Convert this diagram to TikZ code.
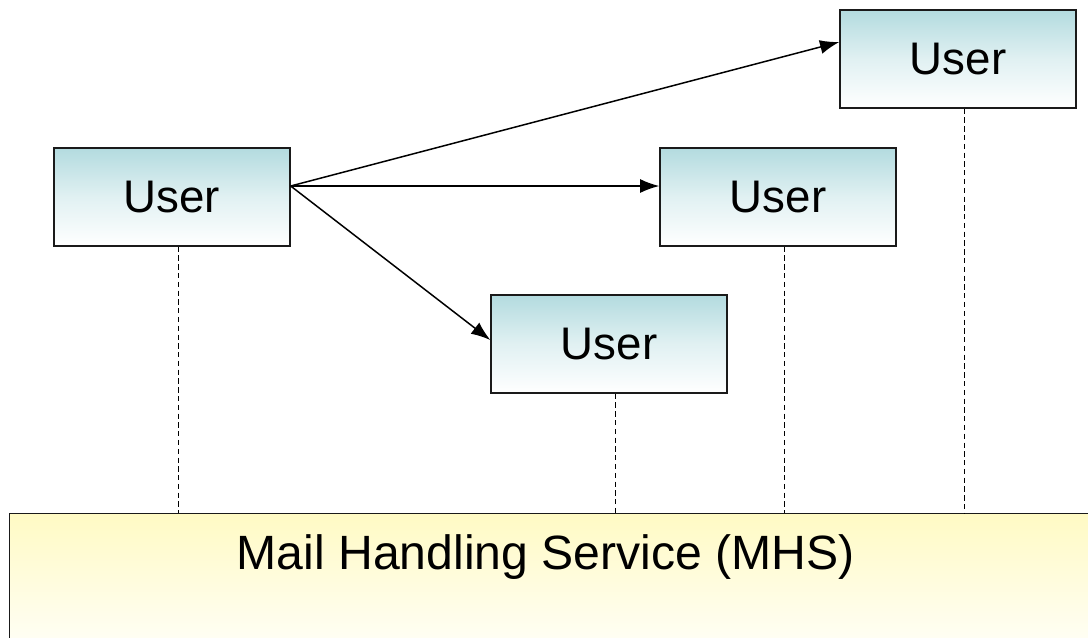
\documentclass[tikz,border=0pt]{standalone}
\usepackage{fontspec}
\setmainfont{Liberation Sans}
\usetikzlibrary{positioning, arrows.meta, calc}
\usepackage{xcolor}
\definecolor{usrteal}{HTML}{B3DBDF}
\definecolor{mhsyellow}{HTML}{FFFAC4}
\definecolor{lineblack}{HTML}{1A1A1A}

\begin{document}
\begin{tikzpicture}[x=0.02cm, y=-0.02cm, font=\fontsize{26}{30}\selectfont,
    userbox/.style={draw=lineblack, line width=0.8pt, top color=usrteal, bottom color=white,
      middle color=usrteal!40!white, minimum width=4.72cm, minimum height=1.96cm, inner sep=0pt},
    msgarrow/.style={-{Latex[length=11pt, width=8pt]}, line width=0.85pt},
    link/.style={line width=0.55pt, dash pattern=on 3pt off 2pt}]
    \useasboundingbox (0,0) rectangle (1088,637);
    % users
    \node[userbox] (u1) at (172,197) {User};
    \node[userbox] (u2) at (778,197) {User};
    \node[userbox] (u3) at (609,344) {User};
    \node[userbox] (u4) at (958,59) {User};
    % service at the bottom
    \node[draw=lineblack, line width=0.8pt, top color=mhsyellow, bottom color=white,
      anchor=north west, minimum width=21.9cm, inner ysep=0.5cm, text height=0.62cm,
      text depth=1.5cm, font=\fontsize{27.4}{31}\selectfont] (mhs) at (9,513)
      {Mail Handling Service (MHS)\hspace*{0.45cm}};
    \coordinate (src) at ($(u1.east)+(0,-11)$);
    \draw[msgarrow] (src) -- ($(u4.west)+(0,-17)$);
    \draw[msgarrow] (src) -- (src -| u2.west);
    \draw[msgarrow] (src) -- ($(u3.west)+(0,-4)$);
    \foreach \u in {u1,u2,u3,u4}
      \draw[link] ([xshift=0.12cm]\u.south) -- ([xshift=0.12cm]\u.south |- mhs.north);
\end{tikzpicture}
\end{document}
